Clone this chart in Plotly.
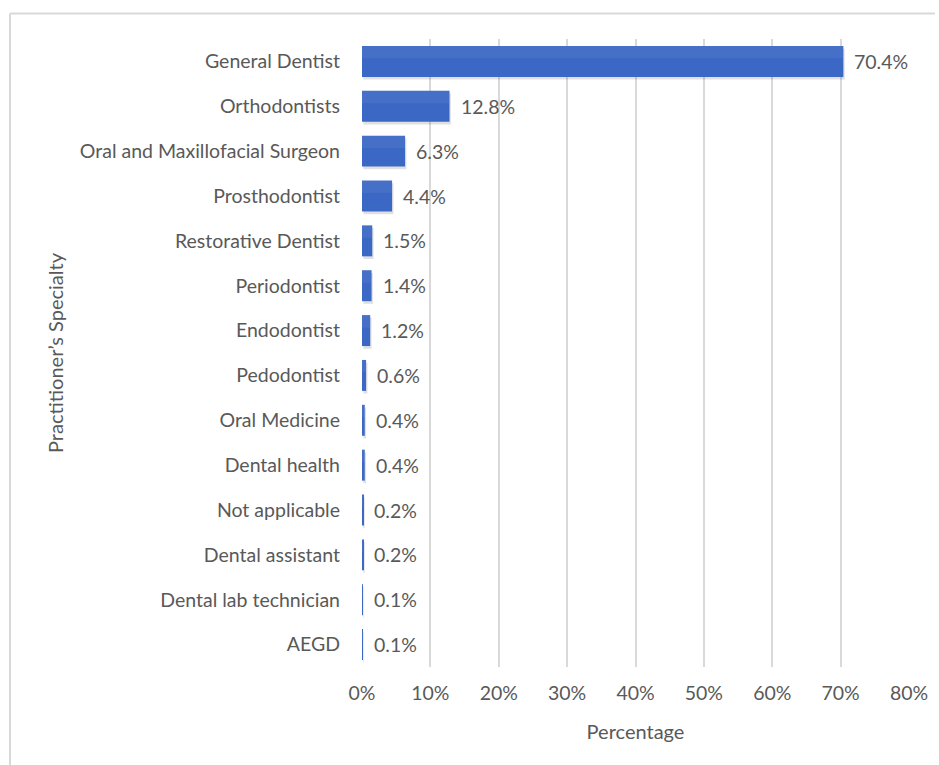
import plotly.graph_objects as go

# Survey respondents by practitioner specialty (percent)
specialties = [
    "General Dentist", "Orthodontists", "Oral and Maxillofacial Surgeon",
    "Prosthodontist", "Restorative Dentist", "Periodontist", "Endodontist",
    "Pedodontist", "Oral Medicine", "Dental health", "Not applicable",
    "Dental assistant", "Dental lab technician", "AEGD",
]
percentages = [70.4, 12.8, 6.3, 4.4, 1.5, 1.4, 1.2, 0.6, 0.4, 0.4, 0.2, 0.2, 0.1, 0.1]
x_ticks = [0, 10, 20, 30, 40, 50, 60, 70, 80]

FONT = "Lato, Calibri, Carlito, sans-serif"
GREY_TEXT = "#595959"
BAR_W = 0.69
FS = 19.5

fig = go.Figure()

# soft drop shadow behind each bar
fig.add_trace(go.Bar(
    y=specialties, x=percentages, orientation="h",
    base=0.2, width=BAR_W, offset=-BAR_W / 2 + 0.06,
    marker=dict(color="rgba(0,0,0,0.12)", line=dict(width=0)),
    hoverinfo="skip", showlegend=False,
))
# main bars
fig.add_trace(go.Bar(
    y=specialties, x=percentages, orientation="h",
    width=BAR_W, offset=-BAR_W / 2,
    marker=dict(color="#3b67c5", line=dict(width=0)),
    showlegend=False,
))
# lighter upper band for a gentle gradient look
fig.add_trace(go.Bar(
    y=specialties, x=percentages, orientation="h",
    width=BAR_W * 0.4, offset=-BAR_W / 2,
    marker=dict(color="rgba(255,255,255,0.06)", line=dict(width=0)),
    hoverinfo="skip", showlegend=False,
))

# value labels just past the end of each bar
for name, val in zip(specialties, percentages):
    fig.add_annotation(
        x=val, y=name, text=f"{val:.1f}%", showarrow=False,
        xanchor="left", yanchor="middle", xshift=9,
        font=dict(family=FONT, size=FS, color=GREY_TEXT),
    )

# outer chart border (top and left edges visible)
fig.add_shape(type="line", xref="paper", yref="paper",
              x0=-0.6435, x1=1.0475, y0=1.0406, y1=1.0406,
              line=dict(color="#d9d9d9", width=2))
fig.add_shape(type="line", xref="paper", yref="paper",
              x0=-0.6435, x1=-0.6435, y0=1.0406, y1=-0.2,
              line=dict(color="#d9d9d9", width=2))

fig.update_layout(
    width=939, height=765,
    margin=dict(l=362, r=30, t=39, b=98),
    plot_bgcolor="white", paper_bgcolor="white",
    barmode="overlay", bargap=0.31,
    font=dict(family=FONT, size=FS, color=GREY_TEXT),
    xaxis=dict(
        range=[0, 80], tickvals=x_ticks,
        ticktext=[f"{t}%" for t in x_ticks],
        showgrid=True, gridcolor="#d9d9d9", gridwidth=1.5,
        zeroline=False, showline=False, ticks="",
        ticklabelstandoff=12,
        tickfont=dict(size=FS, color=GREY_TEXT),
        title=dict(text="Percentage", font=dict(size=20, color=GREY_TEXT), standoff=22),
        fixedrange=True,
    ),
    yaxis=dict(
        autorange="reversed", showgrid=False, zeroline=False,
        showline=False, ticks="", ticklabelstandoff=21,
        tickfont=dict(size=FS, color=GREY_TEXT),
        title=dict(text="Practitioner’s Specialty", font=dict(size=20, color=GREY_TEXT), standoff=10),
    ),
)

fig.write_html("out.html")
